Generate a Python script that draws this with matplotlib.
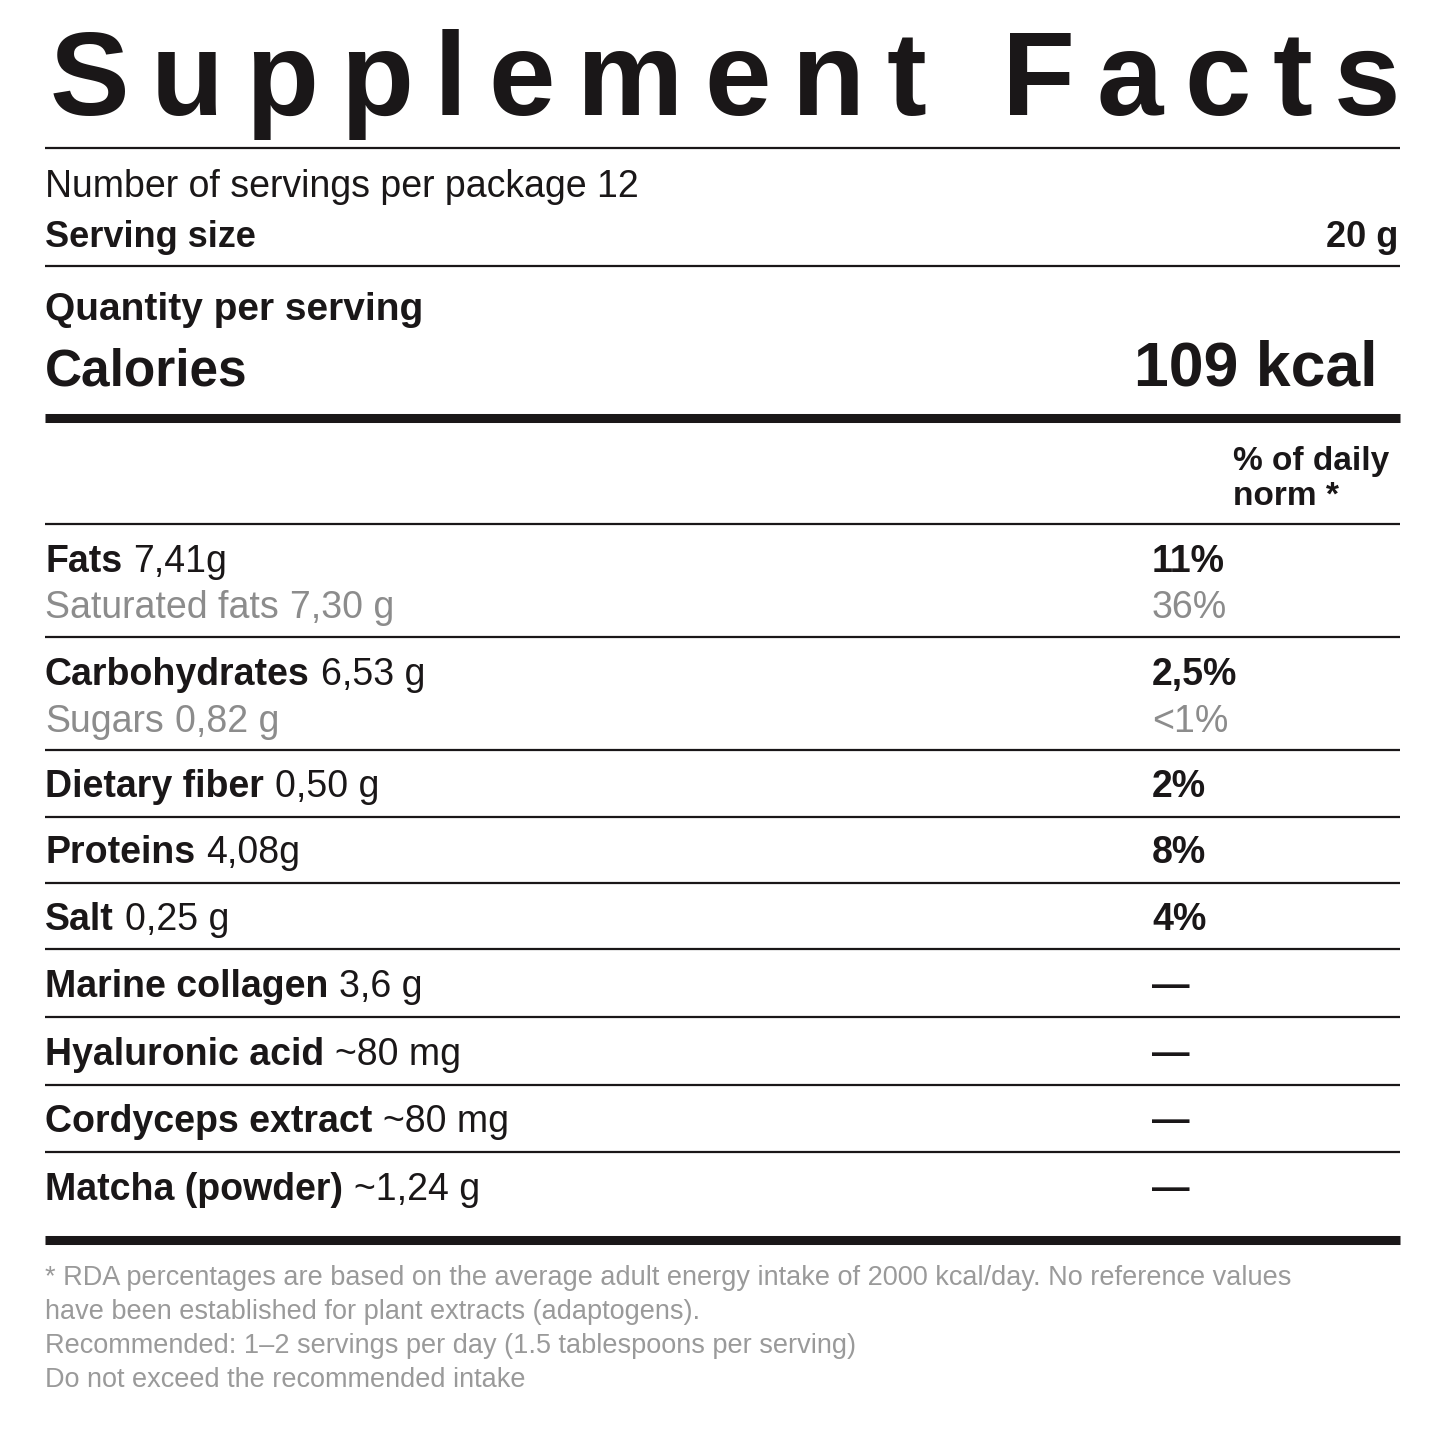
import matplotlib
matplotlib.use("Agg")
import matplotlib.pyplot as plt

plt.rcParams['font.family'] = ['Liberation Sans', 'DejaVu Sans']

TITLE = "Supplement Facts"
servings_text = "Number of servings per package 12"
serving_size = "20 g"
calories = "109 kcal"

row_labels = ["Fats", "Saturated fats", "Carbohydrates", "Sugars", "Dietary fiber",
              "Proteins", "Salt", "Marine collagen", "Hyaluronic acid",
              "Cordyceps extract", "Matcha (powder)"]
row_amounts = ["7,41g", "7,30 g", "6,53 g", "0,82 g", "0,50 g", "4,08g", "0,25 g",
               "3,6 g", "~80 mg", "~80 mg", "~1,24 g"]
row_pct = ["11%", "36%", "2,5%", "<1%", "2%", "8%", "4%", "—", "—", "—", "—"]
row_sub = [False, True, False, True, False, False, False, False, False, False, False]
row_y = [572, 618, 685, 732, 797, 863, 930, 997, 1065, 1132, 1200]

thin_lines = [148, 266, 524, 637, 750, 817, 883, 949, 1017, 1085, 1152]
thick_lines = [418, 1240]

footnotes = [
    "* RDA percentages are based on the average adult energy intake of 2000 kcal/day. No reference values",
    "have been established for plant extracts (adaptogens).",
    "Recommended: 1–2 servings per day (1.5 tablespoons per serving)",
    "Do not exceed the recommended intake",
]

DARK = "#1a1718"
GREY = "#8c8c8c"
FOOT = "#9a9a9a"

fig = plt.figure(figsize=(14.45, 14.45), dpi=100)
ax = fig.add_axes([0, 0, 1, 1])
ax.set_xlim(0, 1445)
ax.set_ylim(1445, 0)
ax.axis("off")

for y in thin_lines:
    ax.plot([45, 1400], [y, y], color=DARK, lw=1.6, solid_capstyle="butt")
for y in thick_lines:
    ax.plot([45, 1400], [y, y], color=DARK, lw=6.5, solid_capstyle="butt")

# letter-spaced title
fig.canvas.draw()
r = fig.canvas.get_renderer()
inv = ax.transData.inverted()
chars = []
total = 0
for c in TITLE:
    t = ax.text(0, 115, c, fontsize=86, fontweight="bold", color=DARK, va="baseline")
    bb = t.get_window_extent(r)
    w = bb.width
    chars.append((t, w))
    total += w
gap = (1400 - 50 - total) / (len(TITLE) - 1)
x = 50
for t, w in chars:
    t.set_x(x)
    x += w + gap

ax.text(45, 197, servings_text, fontsize=27, color=DARK, va="baseline")
ax.text(45, 247, "Serving size", fontsize=26, fontweight="bold", color=DARK, va="baseline")
ax.text(1398, 247, serving_size, fontsize=26, fontweight="bold", color=DARK, va="baseline", ha="right")
ax.text(45, 320, "Quantity per serving", fontsize=28, fontweight="bold", color=DARK, va="baseline")
ax.text(45, 386, "Calories", fontsize=37, fontweight="bold", color=DARK, va="baseline")
ax.text(1378, 386, calories, fontsize=45, fontweight="bold", color=DARK, va="baseline", ha="right")
ax.text(1233, 470, "% of daily", fontsize=24, fontweight="bold", color=DARK, va="baseline")
ax.text(1233, 505, "norm *", fontsize=24, fontweight="bold", color=DARK, va="baseline")

for lab, amt, pct, sub, y in zip(row_labels, row_amounts, row_pct, row_sub, row_y):
    col = GREY if sub else DARK
    wt = "normal" if sub else "bold"
    t = ax.text(45, y, lab, fontsize=27, fontweight=wt, color=col, va="baseline")
    ax.annotate(amt, xy=(1, 0), xycoords=t, xytext=(8, 0), textcoords="offset points",
                fontsize=27, color=col, va="bottom")
    ax.text(1152, y, pct, fontsize=27, fontweight=wt, color=col, va="baseline")

for i, line in enumerate(footnotes):
    ax.text(45, 1285 + i * 34, line, fontsize=19.5, color=FOOT, va="baseline")

fig.savefig("out.png", dpi=100, facecolor="white")
